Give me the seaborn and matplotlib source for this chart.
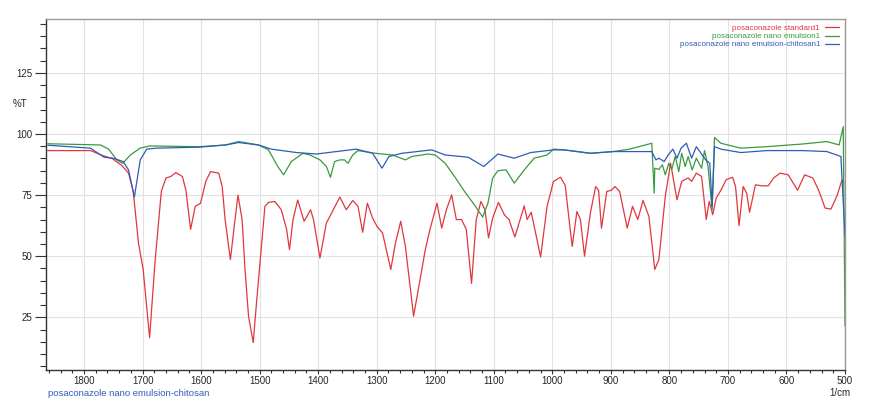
import numpy as np
import pandas as pd
import seaborn as sns
import matplotlib.pyplot as plt
from matplotlib.ticker import MultipleLocator

# ---------------- spectra (wavenumber, %T) ----------------
red_x = [1862, 1789, 1766, 1752, 1735, 1724, 1716, 1707, 1699, 1688, 1679, 1668, 1660,
         1652, 1643, 1632, 1626, 1618, 1610, 1601, 1592, 1584, 1570, 1564, 1559, 1550,
         1544, 1537, 1530, 1525, 1519, 1511, 1505, 1499, 1491, 1485, 1474, 1463, 1454,
         1449, 1443, 1435, 1424, 1413, 1408, 1397, 1386, 1377, 1363, 1352, 1341, 1332,
         1324, 1316, 1307, 1299, 1290, 1276, 1268, 1259, 1251, 1237, 1226, 1217, 1209,
         1197, 1189, 1181, 1172, 1164, 1155, 1147, 1138, 1130, 1122, 1115, 1109, 1102,
         1092, 1082, 1074, 1064, 1048, 1043, 1036, 1020, 1009, 998, 986, 978, 970, 966,
         958, 952, 945, 935, 926, 921, 916, 907, 899, 893, 885, 872, 863, 854, 845, 835,
         825, 818, 807, 798, 793, 787, 779, 768, 762, 754, 745, 737, 732, 726, 720, 712,
         703, 692, 687, 681, 674, 668, 663, 653, 642, 631, 622, 611, 597, 581, 569, 555,
         545, 534, 524, 514, 505, 502]
red_y = [93.2, 93.2, 91.0, 90.0, 87.0, 84.0, 76.5, 55.4, 44.6, 16.7, 47.0, 76.5, 82.0,
         82.6, 84.2, 82.6, 77.0, 61.0, 70.4, 71.7, 80.6, 84.6, 84.0, 78.5, 65.0, 48.6,
         61.0, 75.0, 65.0, 44.6, 25.5, 14.7, 32.0, 48.6, 70.4, 72.0, 72.4, 69.0, 61.0,
         52.7, 65.0, 73.0, 64.3, 69.0, 65.0, 49.3, 63.6, 67.7, 74.2, 69.0, 72.8, 70.4,
         59.8, 71.7, 65.6, 62.0, 59.5, 44.6, 55.4, 64.3, 54.0, 25.5, 40.5, 52.7, 61.0,
         71.7, 61.5, 69.0, 75.1, 65.0, 65.0, 61.0, 38.9, 65.0, 72.4, 69.0, 57.5, 65.6,
         72.0, 67.0, 65.0, 57.9, 70.6, 65.0, 68.0, 49.7, 70.4, 80.6, 82.3, 79.0, 62.0, 54.0,
         68.3, 65.0, 50.0, 67.7, 78.5, 77.0, 61.5, 76.5, 77.0, 78.5, 76.5, 61.5, 70.4, 65.0,
         72.8, 66.3, 44.6, 48.6, 74.5, 88.0, 81.3, 73.1, 80.6, 82.0, 80.6, 84.0, 82.6, 65.0,
         72.4, 67.0, 73.8, 77.0, 81.3, 82.3, 78.5, 62.5, 78.5, 75.8, 68.0, 79.2, 78.8, 78.8,
         82.0, 84.0, 83.3, 77.0, 83.3, 82.0, 77.0, 69.7, 69.3, 74.5, 81.3, 80.0]

green_x = [1862, 1772, 1758, 1744, 1734, 1721, 1704, 1688, 1603, 1558, 1536, 1502, 1485,
           1469, 1459, 1446, 1426, 1414, 1397, 1386, 1379, 1372, 1363, 1355, 1349, 1341,
           1332, 1302, 1273, 1251, 1240, 1212, 1200, 1183, 1167, 1150, 1133, 1119, 1110,
           1102, 1093, 1079, 1065, 1048, 1031, 1009, 998, 980, 935, 896, 868, 830, 826,
           825, 818, 812, 807, 801, 796, 790, 784, 779, 773, 768, 761, 754, 745, 740, 734,
           727, 723, 712, 678, 634, 572, 531, 510, 503, 500]
green_y = [96.0, 95.5, 93.8, 89.4, 88.0, 91.4, 94.2, 95.1, 94.8, 95.5, 96.9, 95.5, 93.5,
           86.7, 83.3, 88.7, 92.1, 91.4, 89.4, 86.7, 82.3, 88.7, 89.4, 89.4, 88.0, 91.4,
           93.2, 92.1, 91.4, 89.4, 90.8, 91.8, 91.4, 88.0, 82.6, 76.5, 71.0, 66.0, 71.7,
           81.9, 85.0, 85.3, 79.9, 85.3, 90.1, 91.4, 93.8, 93.5, 92.1, 92.8, 93.8, 96.2, 75.8,
           86.0, 85.5, 87.4, 83.3, 88.0, 85.5, 90.8, 84.6, 92.1, 86.7, 90.8, 85.3, 90.1, 86.0,
           93.2, 86.7, 69.0, 98.6, 96.2, 94.2, 94.8, 95.9, 96.9, 95.5, 103.0, 21.5]

blue_x = [1862, 1789, 1766, 1749, 1733, 1724, 1714, 1704, 1693, 1676, 1603, 1558, 1536,
          1502, 1480, 1437, 1403, 1335, 1307, 1291, 1279, 1257, 1206, 1183, 1144, 1117,
          1093, 1065, 1037, 998, 980, 935, 896, 830, 823, 818, 809, 802, 794, 787, 780,
          771, 762, 754, 746, 738, 731, 727, 723, 712, 678, 634, 572, 531, 507, 500]
blue_y = [95.4, 94.2, 90.5, 90.0, 88.7, 85.3, 74.2, 89.4, 93.8, 94.2, 94.6, 95.5, 96.5,
          95.5, 93.8, 92.4, 91.8, 93.8, 92.1, 86.0, 90.8, 92.1, 93.5, 91.4, 90.5, 86.7,
          91.8, 90.1, 92.4, 93.5, 93.5, 92.1, 92.8, 92.8, 89.4, 90.1, 88.7, 91.4, 93.8, 90.1,
          94.2, 96.2, 90.1, 94.8, 92.1, 89.4, 88.0, 70.4, 94.8, 93.8, 92.4, 93.2, 93.2, 92.8,
          90.8, 58.0]

labels = ["posaconazole standard1", "posaconazole nano emulsion1",
          "posaconazole nano emulsion-chitosan1"]
colors = ["#e0373d", "#3a9a3f", "#2f5cb8"]

# ---------------- plot ----------------
sns.set_theme(style="whitegrid", rc={"grid.color": "#e2e2e2", "grid.linewidth": 0.8})
plt.rcParams["font.family"] = ["Liberation Sans", "DejaVu Sans"]

fig = plt.figure(figsize=(8.7, 4.03), dpi=100)
ax = fig.add_axes([46 / 870, 1 - 370 / 403, 799 / 870, 351 / 403])

for xs, ys, lab, col in zip([red_x, green_x, blue_x], [red_y, green_y, blue_y], labels, colors):
    sns.lineplot(x=xs, y=ys, ax=ax, sort=False, estimator=None, color=col,
                 linewidth=0.9, label=lab)

ax.set_xlim(1865, 500)
ax.set_ylim(3.5, 147)
ax.xaxis.set_major_locator(MultipleLocator(100))
ax.xaxis.set_minor_locator(MultipleLocator(20))
ax.yaxis.set_major_locator(MultipleLocator(25))
ax.yaxis.set_minor_locator(MultipleLocator(5))
ax.set_yticks([25, 50, 75, 100, 125])
ax.grid(True, which="major")
ax.grid(False, which="minor")

ax.tick_params(axis="y", which="major", direction="out", length=8, width=0.8,
               color="#333333", labelsize=7, pad=2, left=True)
ax.tick_params(axis="y", which="minor", direction="out", length=4.5, width=0.8,
               color="#333333", left=True)
ax.tick_params(axis="x", which="major", direction="out", length=3, width=0.8,
               color="#333333", labelsize=7, pad=1, bottom=True)
ax.tick_params(axis="x", which="minor", direction="out", length=2, width=0.8,
               color="#333333", bottom=True)

for side in ["left", "bottom"]:
    ax.spines[side].set_color("#333333")
    ax.spines[side].set_linewidth(1.0)
for side in ["top", "right"]:
    ax.spines[side].set_color("#999999")
    ax.spines[side].set_linewidth(1.0)

ax.set_ylabel("%T", rotation=0, fontsize=7)
ax.yaxis.set_label_coords(-0.033, 0.745)
ax.set_xlabel("1/cm", fontsize=7, ha="center")
ax.xaxis.set_label_coords(0.993, -0.05)

leg = ax.legend(loc="upper right", frameon=False, markerfirst=False, fontsize=5.8,
                handlelength=1.8, labelspacing=0.05, borderaxespad=0.3, handletextpad=0.6)
for txt, col in zip(leg.get_texts(), colors):
    txt.set_color(col)

fig.text(48 / 870, 1 - 393 / 403, "posaconazole nano emulsion-chitosan", color="#2f5cb8",
         fontsize=6.8, va="center", ha="left")

fig.savefig("out.png", dpi=100)
